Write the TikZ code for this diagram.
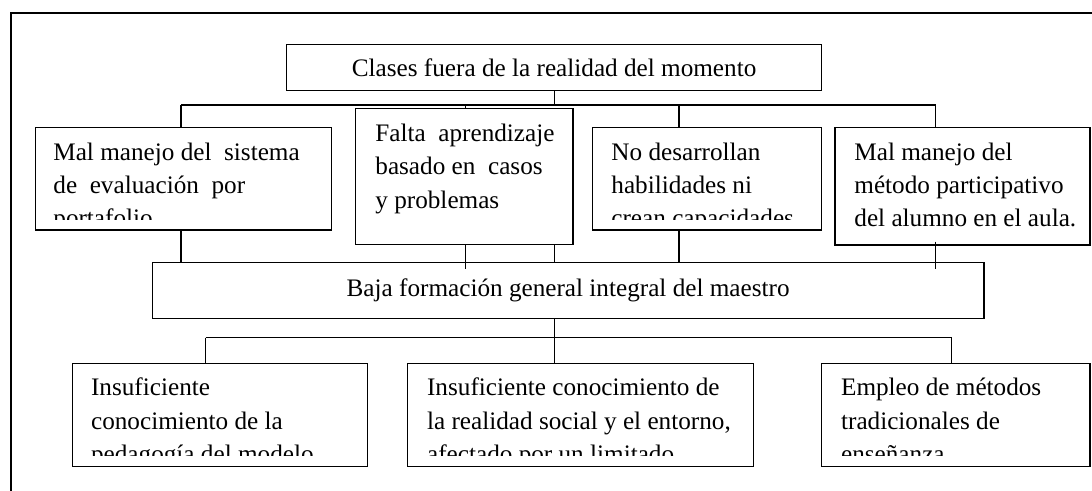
\documentclass[tikz,border=0pt]{standalone}
\usepackage{fontspec}
\setmainfont{Liberation Serif}
\usetikzlibrary{calc}

\newcommand\boxfont{\fontsize{12.6}{14.15}\selectfont}
\newcommand\boxlines[1]{\parbox[t]{160pt}{\boxfont\raggedright\strut #1\par}}

\tikzset{
  box/.style={draw, line width=0.6pt, inner sep=0pt, anchor=north west, font=\boxfont},
  boxtext/.style={inner sep=0pt, anchor=north west},
  link/.style={line width=0.6pt}
}

\begin{document}
\begin{tikzpicture}[x=0.5pt, y=-0.5pt]
        \useasboundingbox (0,0) rectangle (1092,491);
        \draw[link] (1092,13) -- (11,13) -- (11,491);

        \node[box, minimum width=267.5pt, minimum height=23pt] (clases) at (286,44) {Clases fuera de la realidad del momento};
        \node[box, minimum width=148pt, minimum height=51.2pt] (mal) at (35,127) {};
        \node[box, minimum width=108.7pt, minimum height=67.9pt] (falta) at (355,108.3) {};
        \node[box, minimum width=114.7pt, minimum height=51.2pt] (nodes) at (591.7,127) {};
        \node[box, minimum width=127.5pt, minimum height=58.7pt] (metodo) at (834.3,127) {};
        \node[box, minimum width=415.8pt, minimum height=28.3pt] (baja) at (151.7,261.7) {Baja formación general integral del maestro};
        \node[box, minimum width=147.5pt, minimum height=51.5pt] (peda) at (71.7,362.7) {};
        \node[box, minimum width=173pt, minimum height=51.5pt] (social) at (406.7,362.7) {};
        \node[box, minimum width=134.3pt, minimum height=51.5pt] (empleo) at (820.7,362.7) {};

        \begin{scope}
            \clip (mal.north west) rectangle ($(mal.south east)+(0,-11)$);
            \node[boxtext] (maltxt) at ($(mal.north west)+(18,13)$) {\boxlines{Mal manejo del\ \ sistema\\[2.5pt]de\ \ evaluación\ \ por\\[2.5pt]portafolio}};
        \end{scope}
        \begin{scope}
            \clip (falta.north west) rectangle ($(falta.south east)+(0,-11)$);
            \node[boxtext] (faltatxt) at ($(falta.north west)+(20,13)$) {\boxlines{Falta\ \ aprendizaje\\[2.5pt]basado en\ \ casos\\[2.5pt]y problemas}};
        \end{scope}
        \begin{scope}
            \clip (nodes.north west) rectangle ($(nodes.south east)+(0,-11)$);
            \node[boxtext] (nodestxt) at ($(nodes.north west)+(19.3,13)$) {\boxlines{No desarrollan\\[2.5pt]habilidades ni\\[2.5pt]crean capacidades}};
        \end{scope}
        \begin{scope}
            \clip (metodo.north west) rectangle ($(metodo.south east)+(0,-11)$);
            \node[boxtext] (metodotxt) at ($(metodo.north west)+(19.7,13)$) {\boxlines{Mal manejo del\\[2.5pt]método participativo\\[2.5pt]del alumno en el aula.}};
        \end{scope}
        \begin{scope}
            \clip (peda.north west) rectangle ($(peda.south east)+(0,-11)$);
            \node[boxtext] (pedatxt) at ($(peda.north west)+(19,13)$) {\boxlines{Insuficiente\\[2.5pt]conocimiento de la\\[2.5pt]pedagogía del modelo}};
        \end{scope}
        \begin{scope}
            \clip (social.north west) rectangle ($(social.south east)+(0,-11)$);
            \node[boxtext] (socialtxt) at ($(social.north west)+(20,13)$) {\boxlines{Insuficiente conocimiento de\\[2.5pt]la realidad social y el entorno,\\[2.5pt]afectado por un limitado}};
        \end{scope}
        \begin{scope}
            \clip (empleo.north west) rectangle ($(empleo.south east)+(0,-11)$);
            \node[boxtext] (empleotxt) at ($(empleo.north west)+(20,13)$) {\boxlines{Empleo de métodos\\[2.5pt]tradicionales de\\[2.5pt]enseñanza}};
        \end{scope}

        \coordinate (t1) at (181,105);
        \coordinate (t2) at (465.7,105);
        \coordinate (t3) at (679,105);
        \coordinate (t4) at (935.7,105);

        \draw[link] (clases.south) -- (clases.south |- t1);
        \draw[link] (t1) -- (t4);
        \draw[link] (t1) -- (t1 |- mal.north);
        \draw[link] (t2) -- (t2 |- falta.north);
        \draw[link] (t3) -- (t3 |- nodes.north);
        \draw[link] (t4) -- (t4 |- metodo.north);

        \draw[link] ($(t1 |- mal.south)+(0,-1)$) -- (t1 |- baja.north);
        \draw[link] (t2 |- falta.south) -- ($(t2 |- baja.north)+(0,7.6)$);
        \draw[link] (clases.south |- falta.south) -- (clases.south |- baja.north);
        \draw[link] (t3 |- nodes.south) -- (t3 |- baja.north);
        \draw[link] ($(t4 |- metodo.south)+(0,-4)$) -- ($(t4 |- baja.north)+(0,7.6)$);

        \coordinate (b1) at (205.7,337.7);
        \coordinate (b2) at (554.3,337.7);
        \coordinate (b3) at (951.7,337.7);

        \draw[link] (b2 |- baja.south) -- (b2);
        \draw[link, line width=0.8pt] (b1) -- (b3);
        \draw[link] (b1) -- (b1 |- peda.north);
        \draw[link] (b2) -- (b2 |- social.north);
        \draw[link] (b3) -- (b3 |- empleo.north);
    \end{tikzpicture}
\end{document}
